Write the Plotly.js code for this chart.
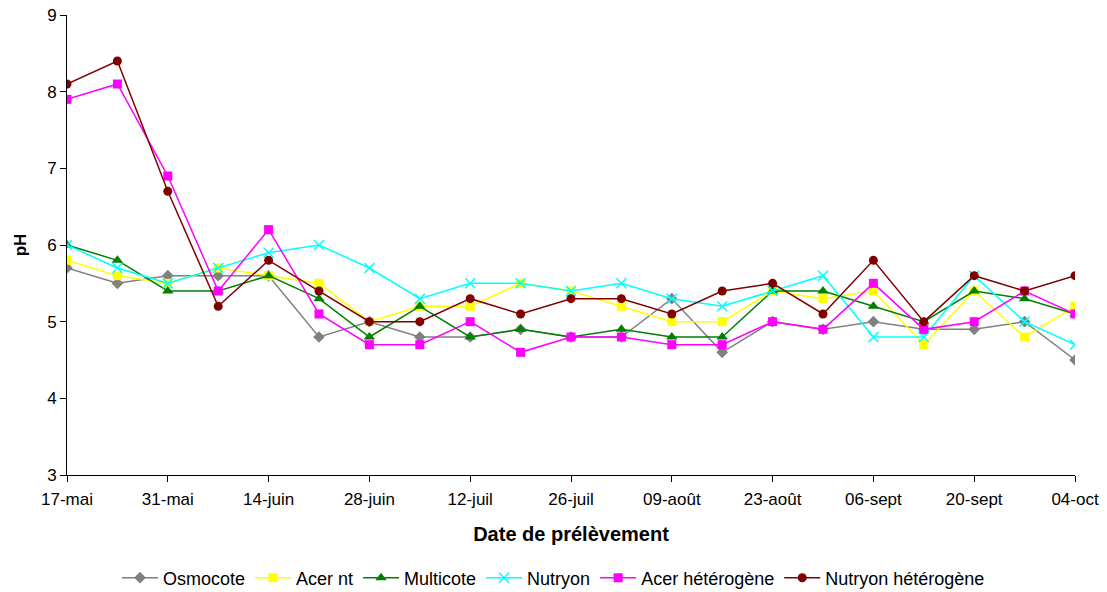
<!DOCTYPE html>
<html><head><meta charset="utf-8">
<script src="https://cdn.plot.ly/plotly-3.0.1.min.js"></script>
<style>html,body{margin:0;padding:0;background:#fff}#chart{width:1107px;height:592px}</style>
</head><body><div id="chart"></div>
<script>
const dates = ["17-mai","24-mai","31-mai","07-juin","14-juin","21-juin","28-juin","05-juil","12-juil","19-juil","26-juil","02-août","09-août","16-août","23-août","30-août","06-sept","13-sept","20-sept","27-sept","04-oct"];
const osmocote        = [5.7,5.5,5.6,5.6,5.6,4.8,5.0,4.8,4.8,4.9,4.8,4.8,5.3,4.6,5.0,4.9,5.0,4.9,4.9,5.0,4.5];
const acerNt          = [5.8,5.6,5.5,5.7,5.6,5.5,5.0,5.2,5.2,5.5,5.4,5.2,5.0,5.0,5.4,5.3,5.4,4.7,5.4,4.8,5.2];
const multicote       = [6.0,5.8,5.4,5.4,5.6,5.3,4.8,5.2,4.8,4.9,4.8,4.9,4.8,4.8,5.4,5.4,5.2,5.0,5.4,5.3,5.1];
const nutryon         = [6.0,5.7,5.5,5.7,5.9,6.0,5.7,5.3,5.5,5.5,5.4,5.5,5.3,5.2,5.4,5.6,4.8,4.8,5.6,5.0,4.7];
const acerHet         = [7.9,8.1,6.9,5.4,6.2,5.1,4.7,4.7,5.0,4.6,4.8,4.8,4.7,4.7,5.0,4.9,5.5,4.9,5.0,5.4,5.1];
const nutryonHet      = [8.1,8.4,6.7,5.2,5.8,5.4,5.0,5.0,5.3,5.1,5.3,5.3,5.1,5.4,5.5,5.1,5.8,5.0,5.6,5.4,5.6];
const seriesNames = ["Osmocote","Acer nt","Multicote","Nutryon","Acer hétérogène","Nutryon hétérogène"];
const yTicks = [3,4,5,6,7,8,9];

const styles = [
  {color:"#808080", symbol:"diamond", size:9},
  {color:"#FFFF00", symbol:"square", size:9},
  {color:"#008000", symbol:"triangle-up", size:10},
  {color:"#00FFFF", symbol:"x-thin-open", size:10},
  {color:"#FF00FF", symbol:"square", size:9},
  {color:"#800000", symbol:"circle", size:9}
];
const values = [osmocote, acerNt, multicote, nutryon, acerHet, nutryonHet];
const traces = values.map((v,i)=>({
  x: dates, y: v, name: seriesNames[i], type:"scatter", mode:"lines+markers",
  line:{color:styles[i].color, width:1.5},
  marker: styles[i].symbol==="x-thin-open"
    ? {symbol:styles[i].symbol, size:styles[i].size, color:styles[i].color, line:{color:styles[i].color, width:1.5}}
    : {symbol:styles[i].symbol, size:styles[i].size, color:styles[i].color}
}));

const layout = {
  width:1107, height:592,
  margin:{l:67, r:32, t:15, b:117},
  paper_bgcolor:"#fff", plot_bgcolor:"#fff",
  font:{family:"Liberation Sans, Arial, sans-serif", size:17, color:"#000"},
  showlegend:true,
  legend:{orientation:"h", xref:"container", yref:"container", x:0.5, xanchor:"center",
          y:(592-578)/592, yanchor:"middle",
          font:{size:18}, itemwidth:36, tracegroupgap:0},
  xaxis:{type:"category", range:[0,20], showline:true, linecolor:"#000", linewidth:1,
         ticks:"outside", ticklen:6, tickcolor:"#000", ticklabelstandoff:3,
         tickvals: dates.filter((d,i)=>i%2===0), ticktext: dates.filter((d,i)=>i%2===0),
         showgrid:false, zeroline:false, automargin:false,
         title:{text:"<b>Date de prélèvement</b>", font:{size:20}, standoff:18}},
  yaxis:{range:[3,9], tickvals:yTicks, showline:true, linecolor:"#000", linewidth:1,
         ticks:"outside", ticklen:6, tickcolor:"#000", showgrid:false, zeroline:false, automargin:false,
         title:{text:"<b>pH</b>", font:{size:17}, standoff:16}}
};
Plotly.newPlot("chart", traces, layout, {displayModeBar:false, staticPlot:true});
</script>
</body></html>
